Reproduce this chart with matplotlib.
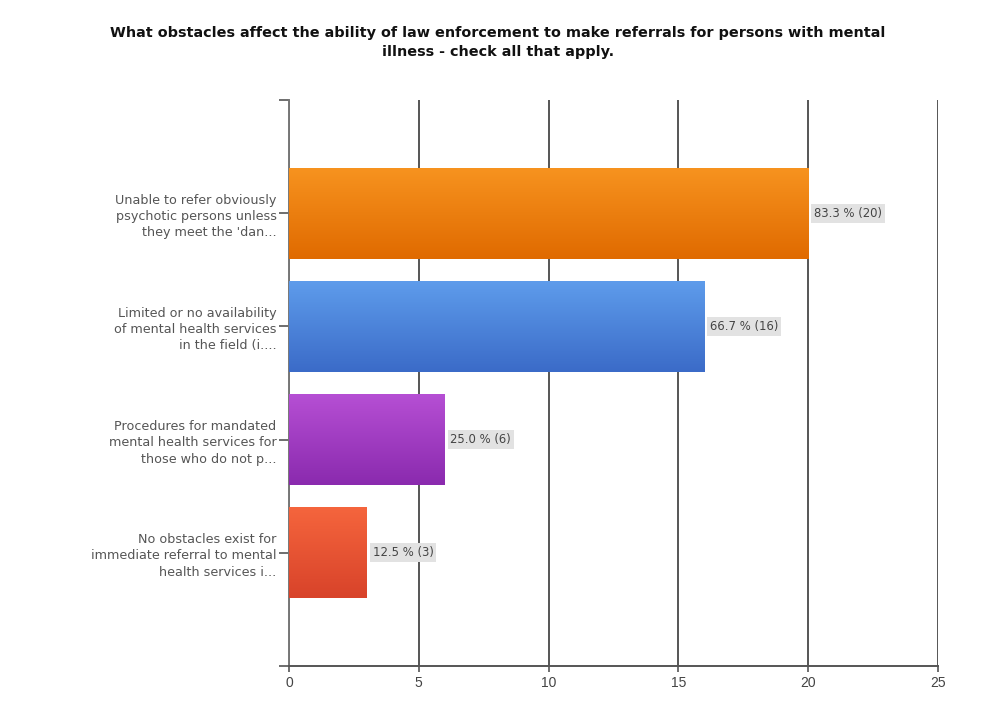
import numpy as np
import matplotlib.pyplot as plt
from matplotlib.colors import LinearSegmentedColormap

# Survey answers (count of respondents) and labels
labels = [
    "Unable to refer obviously\npsychotic persons unless\nthey meet the 'dan...",
    "Limited or no availability\nof mental health services\nin the field (i....",
    "Procedures for mandated\nmental health services for\nthose who do not p...",
    "No obstacles exist for\nimmediate referral to mental\nhealth services i...",
]
counts = [20, 16, 6, 3]
percents = [83.3, 66.7, 25.0, 12.5]
x_ticks = [0, 5, 10, 15, 20, 25]

# top / bottom colour of each bar gradient
bar_colors = [
    ('#f7931f', '#e06a00'),
    ('#5e9ceb', '#3b6bc8'),
    ('#b64fd4', '#8a2aae'),
    ('#f5653d', '#d8432a'),
]

title = ("What obstacles affect the ability of law enforcement to make referrals for persons with mental\n"
         "illness - check all that apply.")

fig = plt.figure(figsize=(9.82, 7.15), dpi=100)
ax = fig.add_axes([0.2943, 0.0685, 0.6609, 0.7916])

ypos = np.arange(1, len(counts) + 1)
bh = 0.8
grad = np.linspace(0, 1, 256).reshape(-1, 1)
for y, c, (c1, c2) in zip(ypos, counts, bar_colors):
    cmap = LinearSegmentedColormap.from_list('g', [c1, c2])
    ax.imshow(grad, cmap=cmap, aspect='auto', zorder=3,
              extent=(0, c, y + bh / 2, y - bh / 2), interpolation='bilinear')

for y, c, p in zip(ypos, counts, percents):
    ax.text(c + 0.22, y, f"{p:.1f} % ({c})", va='center', ha='left', fontsize=8.4,
            color='#444444', zorder=4,
            bbox=dict(boxstyle='square,pad=0.25', fc='#e2e2e2', ec='none'))

ax.set_xlim(0, 25)
ax.set_ylim(5, 0)
ax.set_xticks(x_ticks)
ax.set_xticklabels([str(t) for t in x_ticks], fontsize=10, color='#444444',
                   family='Liberation Sans')
ax.set_yticks([0, 1, 2, 3, 4, 5])
ax.set_yticklabels([''] + labels + [''], fontsize=9.2, color='#555555', linespacing=1.33)

ax.grid(axis='x', color='#555555', lw=1.4, zorder=1)
for s in ['top', 'right']:
    ax.spines[s].set_visible(False)
ax.spines['left'].set_color('#777777')
ax.spines['left'].set_linewidth(1.4)
ax.spines['bottom'].set_color('#555555')
ax.spines['bottom'].set_linewidth(1.4)
ax.tick_params(axis='y', length=7, width=1.2, color='#555555', pad=2)
ax.tick_params(axis='x', length=4, width=1.2, color='#555555', pad=3)

fig.text(0.507, 0.941, title, ha='center', va='center', fontsize=10.4,
         fontweight='bold', color='#111111', linespacing=1.45)

fig.savefig('out.png', dpi=100)
